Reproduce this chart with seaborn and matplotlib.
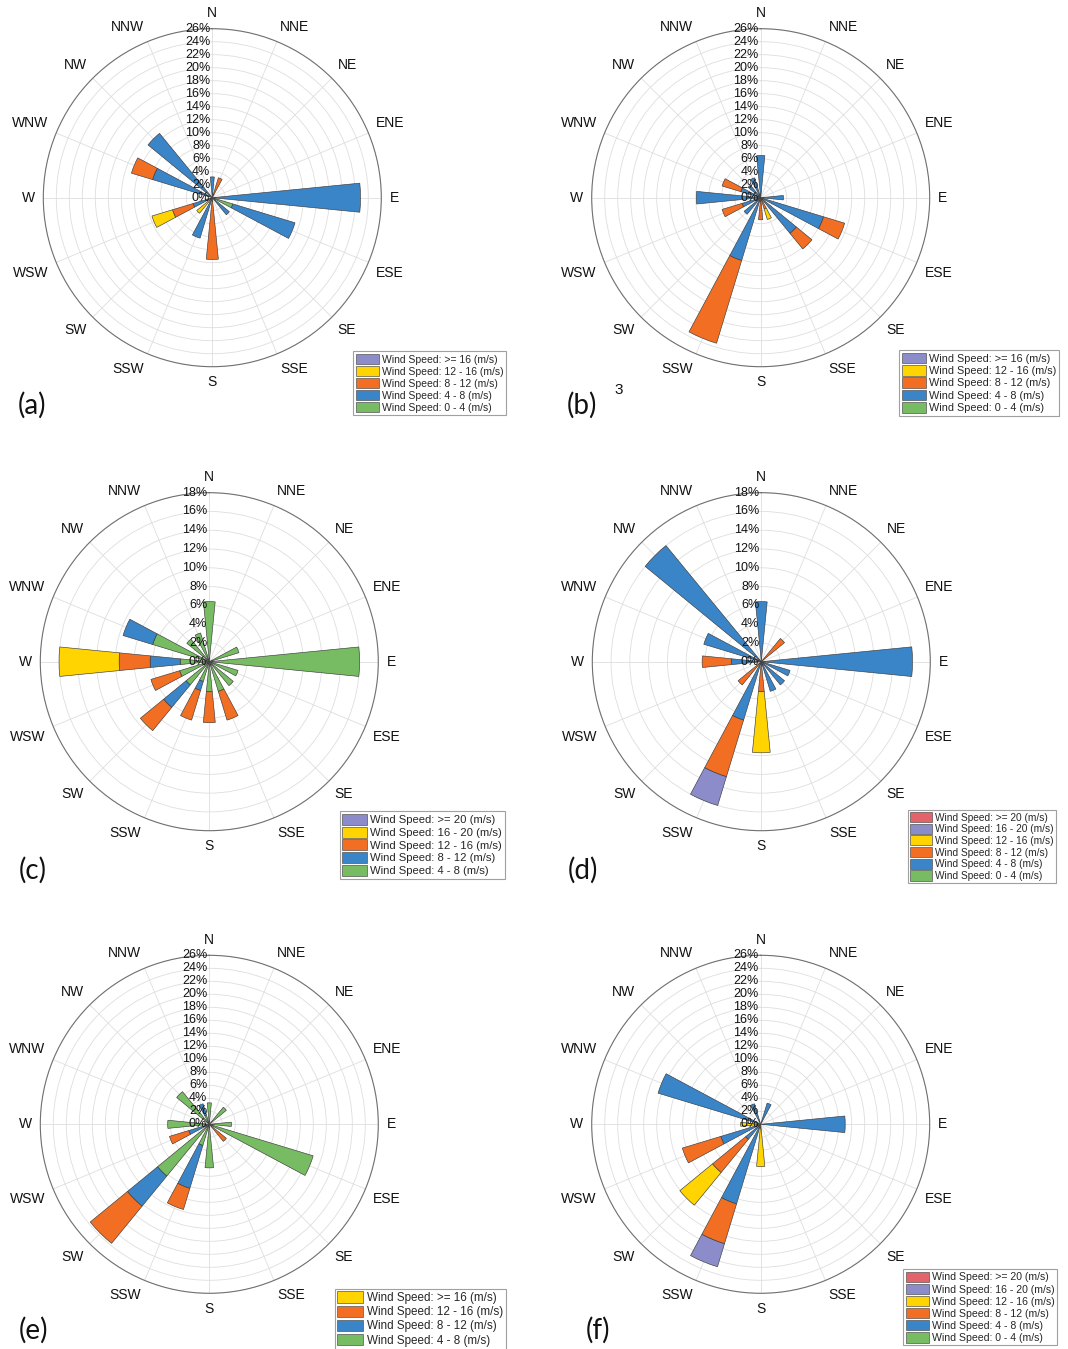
import numpy as np
import pandas as pd
import matplotlib
matplotlib.use("Agg")
import matplotlib.pyplot as plt
from matplotlib.patches import Patch
from matplotlib.transforms import ScaledTranslation
import seaborn as sns

sns.set_theme(style="white")
plt.rcParams['font.family'] = ['Liberation Sans', 'DejaVu Sans']

W, H = 1068, 1349

directions = ["N", "NNE", "NE", "ENE", "E", "ESE", "SE", "SSE",
              "S", "SSW", "SW", "WSW", "W", "WNW", "NW", "NNW"]

PURPLE = "#8C8CCB"
YELLOW = "#FFD400"
ORANGE = "#F26E22"
BLUE = "#3A84C8"
GREEN = "#77BC62"
RED = "#E4636A"

# ---------------- panel (a) ----------------
a_bins = [">= 16", "12 - 16", "8 - 12", "4 - 8", "0 - 4"]
a_colors = [PURPLE, YELLOW, ORANGE, BLUE, GREEN]
a_ge16 = [0, 0, 0, 0, 0, 0, 0, 0, 0, 0, 0, 0, 0, 0, 0, 0]
a_12_16 = [0, 0, 0, 0, 0, 0, 0, 0, 0, 0, 3.1, 3.3, 0, 0, 0, 0]
a_8_12 = [0, 3.2, 0, 0, 0, 0, 0, 0, 9.5, 0, 0, 3.3, 0, 3.4, 0, 0]
a_4_8 = [3.2, 0, 0, 0, 22.8, 10.0, 3.4, 0, 0, 6.5, 0, 3.1, 0, 9.6, 12.8, 0]
a_0_4 = [0, 0, 0, 0, 0, 3.3, 0, 0, 0, 0, 0, 0, 0, 0, 0, 0]

# ---------------- panel (b) ----------------
b_bins = [">= 16", "12 - 16", "8 - 12", "4 - 8", "0 - 4"]
b_colors = [PURPLE, YELLOW, ORANGE, BLUE, GREEN]
b_ge16 = [0, 0, 0, 0, 0, 0, 0, 0, 0, 0, 0, 0, 0, 0, 0, 0]
b_12_16 = [0, 0, 0, 0, 0, 0, 0, 1.7, 0, 0, 0, 0, 0, 0, 0, 0]
b_8_12 = [0, 0, 0, 0, 0, 3.4, 3.1, 1.8, 3.4, 13.3, 0, 3.2, 0, 3.0, 0, 0]
b_4_8 = [6.5, 0, 0, 0, 3.5, 10.1, 7.1, 0, 0, 10.1, 3.3, 3.0, 9.9, 3.2, 2.5, 3.2]
b_0_4 = [0, 0, 0, 0, 0, 0, 0, 0, 0, 0, 0, 0, 0, 0, 0, 0]

# ---------------- panel (c) ----------------
c_bins = [">= 20", "16 - 20", "12 - 16", "8 - 12", "4 - 8"]
c_colors = [PURPLE, YELLOW, ORANGE, BLUE, GREEN]
c_ge20 = [0, 0, 0, 0, 0, 0, 0, 0, 0, 0, 0, 0, 0, 0, 0, 0]
c_16_20 = [0, 0, 0, 0, 0, 0, 0, 0, 0, 0, 0, 0, 6.4, 0, 0, 0]
c_12_16 = [0, 0, 0, 0, 0, 0, 0, 3.2, 3.3, 3.3, 3.2, 3.2, 3.3, 0, 0, 0]
c_8_12 = [0, 0, 0, 0, 0, 0, 0, 0, 0, 1.0, 3.1, 0, 3.2, 3.3, 0, 0]
c_4_8 = [6.4, 0, 0, 3.3, 16.0, 3.2, 3.3, 3.3, 3.2, 2.2, 3.2, 3.3, 3.1, 6.3, 3.1, 3.2]

# ---------------- panel (d) ----------------
d_bins = [">= 20", "16 - 20", "12 - 16", "8 - 12", "4 - 8", "0 - 4"]
d_colors = [RED, PURPLE, YELLOW, ORANGE, BLUE, GREEN]
d_ge20 = [0, 0, 0, 0, 0, 0, 0, 0, 0, 0, 0, 0, 0, 0, 0, 0]
d_16_20 = [0, 0, 0, 0, 0, 0, 0, 0, 0, 3.2, 0, 0, 0, 0, 0, 0]
d_12_16 = [0, 0, 0, 0, 0, 0, 0, 0, 6.5, 0, 0, 0, 0, 0, 0, 0]
d_8_12 = [0, 0, 3.2, 0, 0, 0, 0, 0, 3.2, 6.3, 3.2, 0, 3.1, 0, 0, 0]
d_4_8 = [6.4, 0, 0, 0, 16.1, 3.2, 3.2, 3.3, 0, 6.5, 0, 0, 3.2, 6.4, 16.0, 0]
d_0_4 = [0, 0, 0, 0, 0, 0, 0, 0, 0, 0, 0, 0, 0, 0, 0, 0]

# ---------------- panel (e) ----------------
e_bins = [">= 16", "12 - 16", "8 - 12", "4 - 8"]
e_colors = [YELLOW, ORANGE, BLUE, GREEN]
e_ge16 = [0, 0, 0, 0, 0, 0, 0, 0, 0, 0, 0, 0, 0, 0, 0, 0]
e_12_16 = [0, 0, 0, 0, 0, 0, 3.4, 0, 0, 3.4, 7.4, 3.1, 0, 0, 0, 0]
e_8_12 = [0, 0, 0, 0, 0, 0, 0, 0, 0, 6.9, 6.0, 3.3, 0, 0, 0, 1.8]
e_4_8 = [3.3, 0, 3.4, 0, 3.4, 16.7, 0, 0, 6.7, 3.4, 10.3, 0, 6.4, 0, 6.5, 1.5]

# ---------------- panel (f) ----------------
f_bins = [">= 20", "16 - 20", "12 - 16", "8 - 12", "4 - 8", "0 - 4"]
f_colors = [RED, PURPLE, YELLOW, ORANGE, BLUE, GREEN]
f_ge20 = [0, 0, 0, 0, 0, 0, 0, 0, 0, 0, 0, 0, 0, 0, 0, 0]
f_16_20 = [0, 0, 0, 0, 0, 0, 0, 0, 0, 3.7, 0, 0, 0, 0, 0, 0]
f_12_16 = [0, 0, 0, 0, 0, 0, 0, 0, 6.5, 0, 6.5, 0, 3.1, 0, 0, 0]
f_8_12 = [0, 0, 0, 0, 0, 0, 0, 0, 0, 6.4, 6.6, 6.2, 0, 0, 0, 0]
f_4_8 = [0, 3.4, 0, 0, 13.0, 0, 0, 0, 0, 12.8, 3.0, 6.4, 0, 16.5, 0, 3.3]
f_0_4 = [0, 0, 0, 0, 0, 0, 0, 0, 0, 0, 0, 0, 0, 0, 0, 0]

R_PX = 169

fig = plt.figure(figsize=(W / 100, H / 100), dpi=100)
fig.patch.set_facecolor("white")


def make_ax(cx, cy):
    left = (cx - R_PX) / W
    bottom = 1 - (cy + R_PX) / H
    ax = fig.add_axes([left, bottom, 2 * R_PX / W, 2 * R_PX / H], projection="polar")
    return ax


def rose(ax, rmax, bins, series, colors):
    theta = np.deg2rad(np.arange(16) * 22.5)
    rows = []
    for b, vals in zip(bins, series):
        for t, v in zip(theta, vals):
            rows.append({"theta": t, "speed": b, "pct": v})
    df = pd.DataFrame(rows)
    edges = np.deg2rad(np.arange(-11.25, 360, 22.5)).tolist()
    ax.set_theta_zero_location("N")
    ax.set_theta_direction(-1)
    sns.histplot(df, x="theta", weights="pct", hue="speed", hue_order=bins,
                 palette=dict(zip(bins, colors)), multiple="stack", bins=edges,
                 shrink=0.5, alpha=1, edgecolor="#3C3C3C", linewidth=0.45,
                 legend=False, ax=ax, zorder=3)
    # hide empty (zero-height) segments so they add no edge line
    for p in ax.patches:
        if abs(p.get_height()) < 1e-9:
            p.set_visible(False)
    ax.set_xlabel("")
    ax.set_ylabel("")
    ax.set_xlim(0, 2 * np.pi)
    ax.set_ylim(0, rmax)
    ax.set_axisbelow(True)
    ax.set_thetagrids(np.arange(0, 360, 22.5), labels=[""] * 16)
    ax.set_xticks(np.deg2rad(np.arange(11.25, 360, 22.5)), minor=True)
    ax.tick_params(axis="x", which="major", length=0)
    ax.tick_params(axis="x", which="minor", direction="in", length=5,
                   width=0.6, color="#777777")
    # compass labels
    r_lab = rmax * 177.5 / R_PX
    for name, t in zip(directions, theta):
        s, c = np.sin(t), np.cos(t)
        ha = "center" if abs(s) < 1e-6 else ("left" if s > 0 else "right")
        va = "center" if abs(c) < 1e-6 else ("bottom" if c > 0 else "top")
        ax.text(t, r_lab, name, ha=ha, va=va, fontsize=10, color="#111111",
                clip_on=False)
    ticks = np.arange(0, rmax + 0.1, 2)
    ax.set_yticks(ticks)
    ax.set_yticklabels([])
    ax.grid(True, color="#DEDEDE", linewidth=0.6)
    ax.spines["polar"].set_color("#707070")
    ax.spines["polar"].set_linewidth(0.8)
    off = ScaledTranslation(-1.5 / 72, 0, fig.dpi_scale_trans)
    for r in ticks:
        ax.text(0, r, f"{int(r)}%", transform=ax.transData + off,
                ha="right", va="center", fontsize=9, color="#111111", zorder=6)


def legend(bins, colors, left, top, fs):
    handles = [Patch(facecolor=c, edgecolor="#555555", linewidth=0.5,
                     label=f"Wind Speed: {b} (m/s)") for b, c in zip(bins, colors)]
    leg = fig.legend(handles=handles, loc="upper left",
                     bbox_to_anchor=(left / W, 1 - top / H),
                     bbox_transform=fig.transFigure, fontsize=fs, frameon=True,
                     fancybox=False, edgecolor="#A0A0A0", borderpad=0.25,
                     handlelength=2.2, handleheight=1.15, handletextpad=0.3,
                     labelspacing=0.12, borderaxespad=0)
    leg.get_frame().set_linewidth(0.8)
    leg.get_frame().set_alpha(1)


ax = make_ax(212.3, 197.7)
rose(ax, 26, a_bins, [a_ge16, a_12_16, a_8_12, a_4_8, a_0_4], a_colors)
ax = make_ax(760.7, 197.7)
rose(ax, 26, b_bins, [b_ge16, b_12_16, b_8_12, b_4_8, b_0_4], b_colors)
ax = make_ax(209.3, 661.7)
rose(ax, 18, c_bins, [c_ge20, c_16_20, c_12_16, c_8_12, c_4_8], c_colors)
ax = make_ax(761.3, 661.7)
rose(ax, 18, d_bins, [d_ge20, d_16_20, d_12_16, d_8_12, d_4_8, d_0_4], d_colors)
ax = make_ax(209.3, 1124.3)
rose(ax, 26, e_bins, [e_ge16, e_12_16, e_8_12, e_4_8], e_colors)
ax = make_ax(760.7, 1124.3)
rose(ax, 26, f_bins, [f_ge20, f_16_20, f_12_16, f_8_12, f_4_8, f_0_4], f_colors)

legend(a_bins, a_colors, 353, 351.5, 7.5)
legend(b_bins, b_colors, 899, 350, 7.8)
legend(c_bins, c_colors, 339.5, 811, 8.1)
legend(d_bins, d_colors, 907.5, 809.5, 7.3)
legend(e_bins, e_colors, 334.5, 1288.5, 8.4)
legend(f_bins, f_colors, 903, 1269, 7.6)

panel_labels = ["(a)", "(b)", "(c)", "(d)", "(e)", "(f)"]
label_pos = [(32, 405), (582, 405), (33, 870), (583, 870), (33, 1330), (598, 1330)]
for lab, (x, y) in zip(panel_labels, label_pos):
    fig.text(x / W, 1 - y / H, lab, fontsize=20, ha="center", va="center",
             family=["Lato", "DejaVu Sans"], color="#111111")
fig.text(619 / W, 1 - 390 / H, "3", fontsize=11, ha="center", va="center",
         color="#111111")

fig.savefig("out.png", dpi=100, facecolor="white")
